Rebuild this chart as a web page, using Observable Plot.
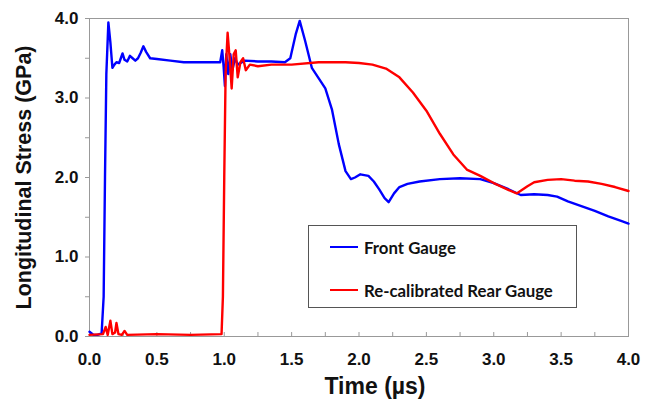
<!DOCTYPE html>
<html>
<head>
<meta charset="utf-8">
<script src="https://cdn.jsdelivr.net/npm/d3@7"></script>
<script src="https://cdn.jsdelivr.net/npm/@observablehq/plot@0.6"></script>
<style>
  html, body { margin: 0; padding: 0; background: #fff; }
  #wrap { position: relative; width: 647px; height: 399px; }
  #legend { position: absolute; left: 308px; top: 225px; width: 269px; height: 83px;
    border: 1px solid #555; background: #fff; box-sizing: border-box;
    font-family: Lato, "Open Sans", sans-serif; font-weight: bold; font-size: 16.8px; color: #111; }
  .item { position: absolute; left: 21px; display: flex; align-items: center; height: 20px; }
  .sw { width: 28px; height: 2.5px; margin-right: 6px; }
</style>
</head>
<body>
<div id="wrap"></div>
<script>
// ---- data ----
const frontTime   = [0, 0.03, 0.06, 0.09, 0.105, 0.115, 0.125, 0.14, 0.155, 0.17, 0.185, 0.2, 0.22, 0.245, 0.26, 0.28, 0.3, 0.32, 0.34, 0.36, 0.38, 0.4, 0.42, 0.45, 0.5, 0.6, 0.7, 0.8, 0.9, 0.97, 0.985, 0.995, 1.005, 1.015, 1.03, 1.045, 1.06, 1.08, 1.1, 1.15, 1.25, 1.35, 1.45, 1.49, 1.53, 1.56, 1.6, 1.65, 1.7, 1.75, 1.8, 1.85, 1.9, 1.94, 1.97, 2.01, 2.07, 2.11, 2.15, 2.19, 2.22, 2.26, 2.3, 2.36, 2.45, 2.6, 2.75, 2.9, 3.0, 3.1, 3.2, 3.3, 3.4, 3.47, 3.55, 3.65, 3.75, 3.85, 3.95, 4.0];
const frontStress = [0.06, 0.02, 0.02, 0.04, 0.5, 2.0, 3.3, 3.95, 3.7, 3.38, 3.42, 3.45, 3.44, 3.56, 3.48, 3.46, 3.53, 3.5, 3.47, 3.5, 3.57, 3.65, 3.58, 3.5, 3.49, 3.47, 3.45, 3.45, 3.45, 3.45, 3.6, 3.4, 3.15, 3.55, 3.3, 3.55, 3.35, 3.5, 3.42, 3.47, 3.46, 3.46, 3.45, 3.5, 3.8, 3.97, 3.72, 3.38, 3.25, 3.12, 2.85, 2.42, 2.08, 1.98, 2.0, 2.04, 2.02, 1.95, 1.85, 1.74, 1.69, 1.8, 1.88, 1.92, 1.95, 1.98, 1.99, 1.98, 1.93, 1.86, 1.78, 1.79, 1.78, 1.76, 1.7, 1.64, 1.58, 1.51, 1.45, 1.42];
const rearTime    = [0, 0.1, 0.12, 0.135, 0.155, 0.17, 0.19, 0.2, 0.215, 0.24, 0.26, 0.28, 0.5, 0.75, 0.98, 0.99, 1.0, 1.01, 1.025, 1.04, 1.055, 1.07, 1.085, 1.1, 1.12, 1.14, 1.16, 1.19, 1.25, 1.35, 1.5, 1.7, 1.9, 2.0, 2.1, 2.2, 2.3, 2.4, 2.5, 2.6, 2.7, 2.8, 2.9, 3.0, 3.1, 3.17, 3.25, 3.3, 3.4, 3.5, 3.6, 3.7, 3.8, 3.9, 4.0];
const rearStress  = [0.02, 0.03, 0.12, 0.02, 0.2, 0.03, 0.05, 0.17, 0.03, 0.02, 0.07, 0.02, 0.03, 0.02, 0.03, 0.5, 2.0, 3.3, 3.82, 3.5, 3.12, 3.55, 3.6, 3.26, 3.45, 3.5, 3.35, 3.42, 3.4, 3.42, 3.42, 3.45, 3.45, 3.44, 3.42, 3.37, 3.26, 3.07, 2.84, 2.55, 2.29, 2.1, 2.02, 1.93, 1.85, 1.8, 1.89, 1.94, 1.97, 1.98, 1.96, 1.95, 1.92, 1.88, 1.83];
const xTickLabels = [0, 0.5, 1, 1.5, 2, 2.5, 3, 3.5, 4];
const xMinorTicks = d3.range(0, 4.001, 0.25);
const yTickLabels = [0, 1, 2, 3, 4];
const yMinorTicks = d3.range(0, 4.001, 0.5);
const seriesNames = ["Front Gauge", "Re-calibrated Rear Gauge"];
const seriesColors = ["#0000ff", "#ff0000"];

const front = frontTime.map((t, i) => ({t, v: frontStress[i]}));
const rear = rearTime.map((t, i) => ({t, v: rearStress[i]}));

const chart = Plot.plot({
  width: 647,
  height: 399,
  marginLeft: 89,
  marginRight: 19,
  marginTop: 18,
  marginBottom: 63,
  style: {fontFamily: "'Liberation Sans', Arial, sans-serif", fontWeight: "bold", fontSize: "17px", color: "#111", background: "#fff", overflow: "visible"},
  x: {domain: [0, 4]},
  y: {domain: [0, 4]},
  marks: [
    Plot.frame({stroke: "#999"}),
    Plot.axisY({ticks: yMinorTicks, tickSize: 4, stroke: "#999", tickFormat: () => "", label: null}),
    Plot.axisY({ticks: yTickLabels, tickSize: 0, tickPadding: 11, tickFormat: d3.format(".1f"), label: null, fontSize: 17, fontWeight: "bold"}),
    Plot.ruleX(xMinorTicks, {x: d => d, y1: 0, y2: 0.05, stroke: "#999"}),
    Plot.axisX({ticks: xTickLabels, tickSize: 0, tickPadding: 16, tickFormat: d3.format(".1f"), label: null, fontSize: 17, fontWeight: "bold"}),
    Plot.lineY(front, {x: "t", y: "v", stroke: seriesColors[0], strokeWidth: 2.4}),
    Plot.lineY(rear, {x: "t", y: "v", stroke: seriesColors[1], strokeWidth: 2.4}),
    Plot.text(["Time (µs)"], {frameAnchor: "bottom", lineAnchor: "middle", dx: 16, dy: 50, fontSize: 23, fontWeight: "bold", fill: "#111"}),
    Plot.text(["Longitudinal Stress (GPa)"], {frameAnchor: "left", lineAnchor: "middle", textAnchor: "middle", rotate: -90, dx: -65, fontSize: 21.5, fontWeight: "bold", fill: "#111"})
  ]
});

const wrap = document.getElementById("wrap");
wrap.appendChild(chart);
const legend = document.createElement("div");
legend.id = "legend";
seriesNames.forEach((name, i) => {
  const it = document.createElement("div");
  it.className = "item";
  it.style.top = (i === 0 ? 11 : 54) + "px";
  const sw = document.createElement("span");
  sw.className = "sw";
  sw.style.background = seriesColors[i];
  const tx = document.createElement("span");
  tx.textContent = name;
  it.appendChild(sw);
  it.appendChild(tx);
  legend.appendChild(it);
});
wrap.appendChild(legend);
</script>
</body>
</html>
